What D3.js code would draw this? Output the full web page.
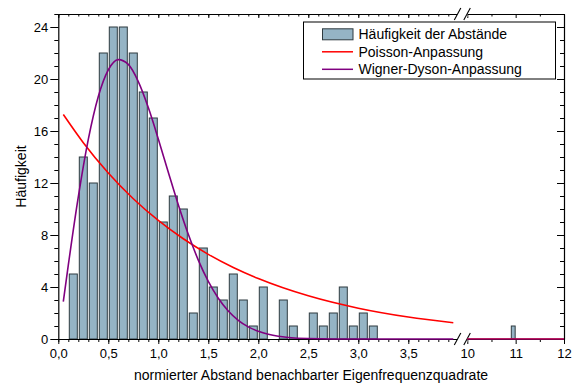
<!DOCTYPE html>
<html>
<head>
<meta charset="utf-8">
<script src="https://d3js.org/d3.v7.min.js"></script>
<style>
  html, body { margin: 0; padding: 0; background: #fff; }
  svg { display: block; font-family: "Liberation Sans", Arial, sans-serif; }
</style>
</head>
<body>
<svg id="chart" width="573" height="385"></svg>
<script>
// Histogram of normalised spacings (bin left edges, width 0.1) and their counts
const binLeft = [0.1, 0.2, 0.3, 0.4, 0.5, 0.6, 0.7, 0.8, 0.9, 1.0, 1.1, 1.2, 1.3, 1.4, 1.5,
                 1.6, 1.7, 1.8, 1.9, 2.0, 2.1, 2.2, 2.3, 2.4, 2.5, 2.6, 2.7, 2.8, 2.9, 3.0, 3.1];
const counts  = [5, 14, 12, 22, 24, 24, 22, 19, 17, 9, 11, 10, 2, 7, 4,
                 3, 5, 3, 1, 4, 0, 3, 1, 0, 2, 1, 2, 4, 1, 2, 1];
// Outlier beyond the axis break
const outlierLeft = [10.9];
const outlierCounts = [1];

// Poisson fit curve (points along the curve)
const poissonX = [0.05, 0.25, 0.5, 0.75, 1.0, 1.25, 1.5, 1.75, 2.0, 2.5, 3.0, 3.5, 3.95];
const poissonY = [17.27, 15.10, 12.77, 10.79, 9.12, 7.71, 6.51, 5.50, 4.65, 3.32, 2.37, 1.69, 1.25];
const poissonTailX = [10, 12];
const poissonTailY = [0.02, 0.01];

// Wigner-Dyson fit curve (points along the curve)
const wignerX = [0.05, 0.1, 0.2, 0.3, 0.4, 0.5, 0.6, 0.7, 0.8, 0.9, 1.0, 1.1, 1.2, 1.3, 1.4, 1.5,
                 1.6, 1.7, 1.8, 1.9, 2.0, 2.1, 2.2, 2.3, 2.5, 3.0, 3.5, 3.95];
const wignerY = [2.87, 5.68, 10.93, 15.35, 18.65, 20.70, 21.49, 21.12, 19.80, 17.80, 15.39, 12.83, 10.33, 8.05, 6.07, 4.43,
                 3.14, 2.16, 1.44, 0.93, 0.59, 0.36, 0.21, 0.12, 0.04, 0, 0, 0];
const wignerTailX = [10, 12];
const wignerTailY = [0, 0];

// Axis ticks
const xMajor1 = [0, 0.5, 1.0, 1.5, 2.0, 2.5, 3.0, 3.5];
const xMinor1 = d3.range(0, 40).map(i => i / 10);
const xMajor2 = [10, 11, 12];
const xMinor2 = [10.5, 11.5];
const yMajor = [0, 4, 8, 12, 16, 20, 24];
const yMinor = d3.range(0, 26);

const legendLabels = ["Häufigkeit der Abstände", "Poisson-Anpassung", "Wigner-Dyson-Anpassung"];
const xTitle = "normierter Abstand benachbarter Eigenfrequenzquadrate";
const yTitle = "Häufigkeit";

const BAR_FILL = "#95b4c5", BAR_STROKE = "#2f3b40";
const RED = "#ff0000", PURPLE = "#800080";

const svg = d3.select("#chart");
const plotL = 58.3, plotR = 564, plotT = 14, plotB = 339;
const x1 = d3.scaleLinear([0, 4], [plotL, 458.3]);
const x2 = d3.scaleLinear([10, 12], [467.3, plotR]);
const y = d3.scaleLinear([0, 25], [plotB, plotT]);

const commaFmt = v => d3.format(".1f")(v).replace(".", ",");

// Bars
const bars = binLeft.map((b, i) => ({ b, c: counts[i] })).filter(d => d.c > 0);
svg.append("g").selectAll("rect").data(bars).join("rect")
  .attr("x", d => x1(d.b + 0.01))
  .attr("width", d => x1(d.b + 0.09) - x1(d.b + 0.01))
  .attr("y", d => y(d.c))
  .attr("height", d => y(0) - y(d.c))
  .attr("fill", BAR_FILL).attr("stroke", BAR_STROKE).attr("stroke-width", 1);
svg.append("g").selectAll("rect").data(outlierLeft.map((b, i) => ({ b, c: outlierCounts[i] }))).join("rect")
  .attr("x", d => x2(d.b + 0.01))
  .attr("width", d => x2(d.b + 0.09) - x2(d.b + 0.01))
  .attr("y", d => y(d.c))
  .attr("height", d => y(0) - y(d.c))
  .attr("fill", BAR_FILL).attr("stroke", BAR_STROKE).attr("stroke-width", 1);

// Axes
function styleAxis(g) {
  g.selectAll("path.domain").attr("stroke", "#000").attr("stroke-width", 1.2);
  g.selectAll(".tick line").attr("stroke", "#000").attr("stroke-width", 1);
  g.selectAll(".tick text").attr("fill", "#000");
}
const axisFont = 13;

// bottom, segment 1
svg.append("g").attr("transform", `translate(0,${plotB})`)
  .call(d3.axisBottom(x1).tickValues(xMinor1).tickSize(3).tickSizeOuter(0).tickFormat(""))
  .call(styleAxis);
svg.append("g").attr("transform", `translate(0,${plotB})`)
  .call(d3.axisBottom(x1).tickValues(xMajor1).tickSize(5).tickSizeOuter(0).tickFormat(commaFmt).tickPadding(5))
  .call(styleAxis)
  .call(g => g.select("path.domain").remove())
  .selectAll("text").style("font-size", axisFont + "px");
// bottom, segment 2
svg.append("g").attr("transform", `translate(0,${plotB})`)
  .call(d3.axisBottom(x2).tickValues(xMinor2).tickSize(3).tickSizeOuter(0).tickFormat(""))
  .call(styleAxis);
svg.append("g").attr("transform", `translate(0,${plotB})`)
  .call(d3.axisBottom(x2).tickValues(xMajor2).tickSize(5).tickSizeOuter(0).tickFormat(d3.format("d")).tickPadding(5))
  .call(styleAxis)
  .call(g => g.select("path.domain").remove())
  .selectAll("text").style("font-size", axisFont + "px");

// top, both segments (ticks inward)
[[x1, xMinor1, xMajor1], [x2, xMinor2, xMajor2]].forEach(([sc, mn, mj]) => {
  svg.append("g").attr("transform", `translate(0,${plotT})`)
    .call(d3.axisTop(sc).tickValues(mn).tickSize(-2.5).tickSizeOuter(0).tickFormat(""))
    .call(styleAxis);
  svg.append("g").attr("transform", `translate(0,${plotT})`)
    .call(d3.axisTop(sc).tickValues(mj).tickSize(-4).tickSizeOuter(0).tickFormat(""))
    .call(styleAxis)
    .call(g => g.select("path.domain").remove());
});

// left
svg.append("g").attr("transform", `translate(${plotL},0)`)
  .call(d3.axisLeft(y).tickValues(yMinor).tickSize(4).tickSizeOuter(0).tickFormat(""))
  .call(styleAxis);
svg.append("g").attr("transform", `translate(${plotL},0)`)
  .call(d3.axisLeft(y).tickValues(yMajor).tickSize(8).tickSizeOuter(0).tickFormat(d3.format("d")).tickPadding(2))
  .call(styleAxis)
  .call(g => g.select("path.domain").remove())
  .selectAll("text").style("font-size", axisFont + "px");

// right (ticks inward)
svg.append("g").attr("transform", `translate(${plotR},0)`)
  .call(d3.axisRight(y).tickValues(yMinor).tickSize(-4).tickSizeOuter(0).tickFormat(""))
  .call(styleAxis);
svg.append("g").attr("transform", `translate(${plotR},0)`)
  .call(d3.axisRight(y).tickValues(yMajor).tickSize(-7).tickSizeOuter(0).tickFormat(""))
  .call(styleAxis)
  .call(g => g.select("path.domain").remove());

// Axis break marks
const bL = x1.range()[1], bR = x2.range()[0];
[plotB, plotT].forEach(yy => {
  svg.append("rect").attr("x", bL - 1).attr("y", yy - 3).attr("width", bR - bL + 1).attr("height", 6).attr("fill", "#fff");
  [[bL - 4, bL + 2.5], [bR - 3.5, bR + 3]].forEach(([a, b]) => {
    svg.append("line").attr("x1", a).attr("y1", yy + 6).attr("x2", b).attr("y2", yy - 6)
      .attr("stroke", "#000").attr("stroke-width", 1.1);
  });
});

// Fit curves
const line = (sx) => d3.line().x(d => sx(d[0])).y(d => y(d[1])).curve(d3.curveMonotoneX);
const zip = (a, b) => a.map((v, i) => [v, b[i]]);
const curves = [
  [poissonX, poissonY, poissonTailX, poissonTailY, RED],
  [wignerX, wignerY, wignerTailX, wignerTailY, PURPLE]
];
curves.forEach(([xs, ys, tx, ty, col]) => {
  svg.append("path").attr("d", line(x1)(zip(xs, ys)))
    .attr("fill", "none").attr("stroke", col).attr("stroke-width", 1.6);
  svg.append("path").attr("d", line(x2)(zip(tx, ty)))
    .attr("fill", "none").attr("stroke", col).attr("stroke-width", 1.6).attr("stroke-opacity", 0.75);
});

// Axis titles
svg.append("text").attr("x", 311).attr("y", 380).attr("text-anchor", "middle")
  .style("font-size", "14px").text(xTitle);
svg.append("text").attr("transform", `translate(26,${(plotT + plotB) / 2}) rotate(-90)`)
  .attr("text-anchor", "middle").style("font-size", "14px").text(yTitle);

// Legend
const lg = svg.append("g");
lg.append("rect").attr("x", 303.5).attr("y", 22).attr("width", 252).attr("height", 57)
  .attr("fill", "#fff").attr("stroke", "#000").attr("stroke-width", 1);
const rows = [34.3, 51.8, 69.3];
lg.append("rect").attr("x", 322.5).attr("y", rows[0] - 5.5).attr("width", 30.5).attr("height", 11)
  .attr("fill", BAR_FILL).attr("stroke", BAR_STROKE).attr("stroke-width", 1);
lg.append("line").attr("x1", 322).attr("x2", 353).attr("y1", rows[1]).attr("y2", rows[1])
  .attr("stroke", RED).attr("stroke-width", 1.5);
lg.append("line").attr("x1", 322).attr("x2", 353).attr("y1", rows[2]).attr("y2", rows[2])
  .attr("stroke", PURPLE).attr("stroke-width", 1.5);
legendLabels.forEach((t, i) => {
  lg.append("text").attr("x", 358.5).attr("y", rows[i]).attr("dy", "0.36em")
    .style("font-size", "14px").text(t);
});
</script>
</body>
</html>
